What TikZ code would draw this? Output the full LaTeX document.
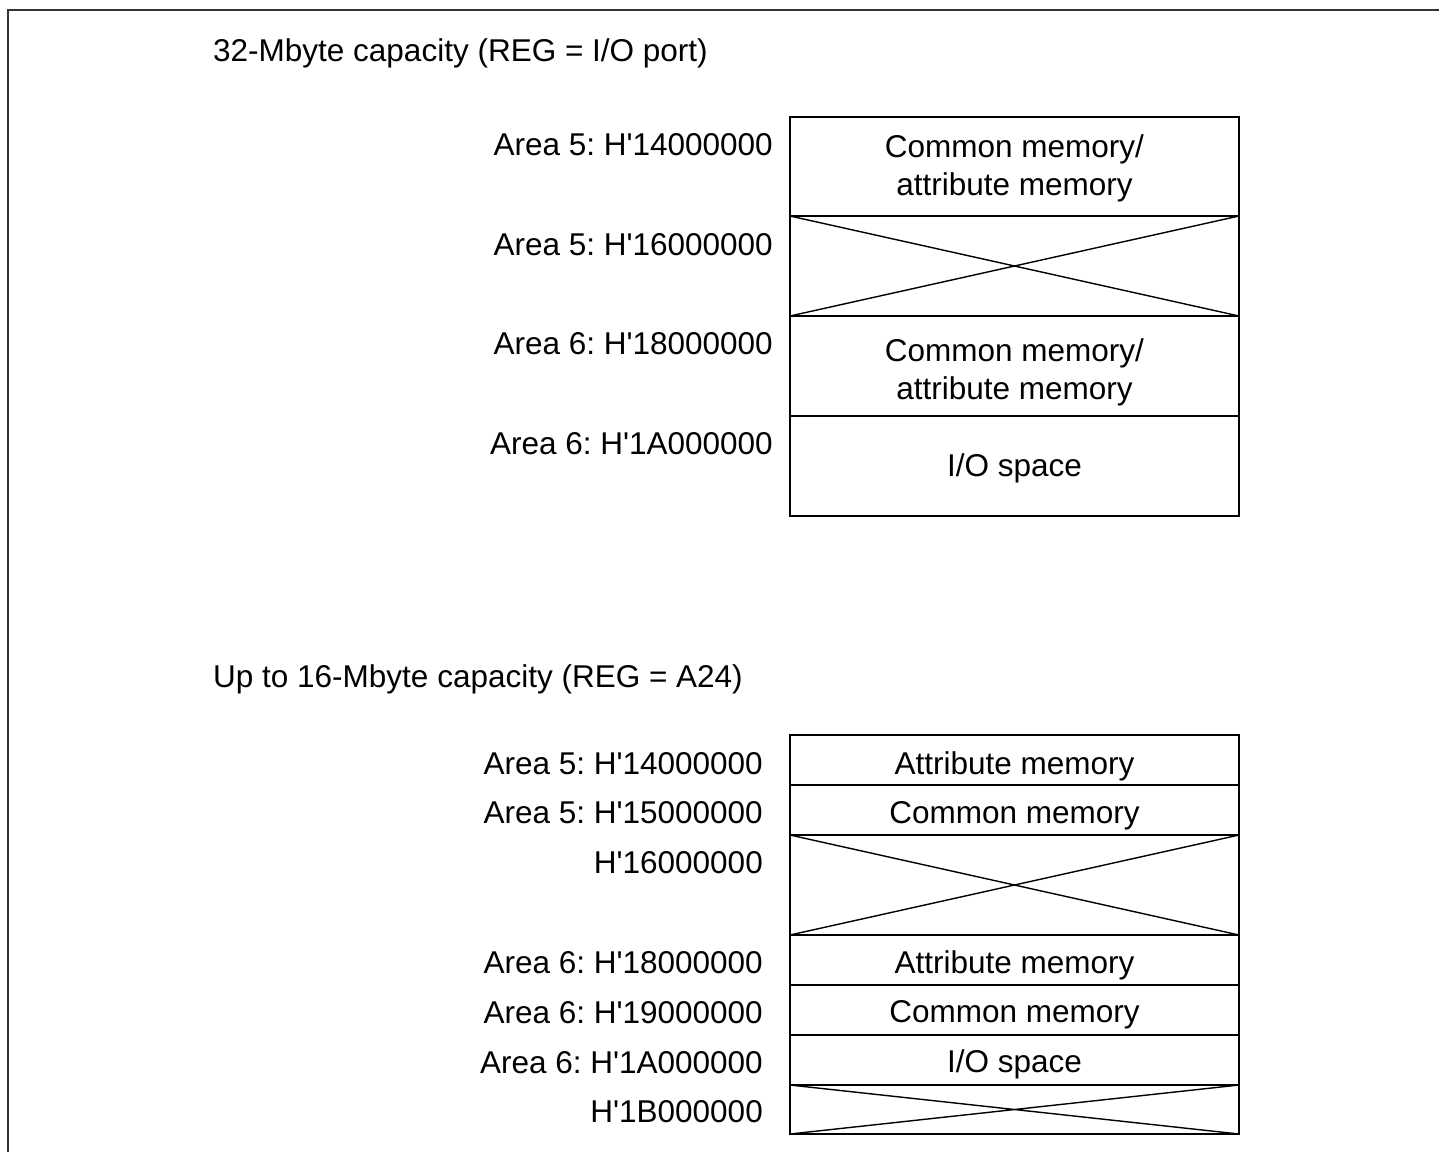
\documentclass[tikz,border=0pt]{standalone}
\usepackage{fontspec}
\setmainfont{Liberation Sans}[Ligatures=TeXOff]
\frenchspacing
\begin{document}
\begin{tikzpicture}[x=1pt,y=-1pt,
  f/.style={inner sep=0pt, font=\fontsize{31.5}{38}\selectfont},
  lbl/.style={f, anchor=base east},
  ttl/.style={f, anchor=base west},
  txt/.style={f, anchor=base},
  cell/.style={draw, line width=1.8pt, minimum width=449pt, inner sep=0pt, outer sep=0pt},
  frame/.style={draw=black!80, line width=2pt}]
\useasboundingbox (0,0) rectangle (1439,1152);
% frame
\coordinate (fa) at (1439,10);
\coordinate (fb) at (8,10);
\coordinate (fc) at (8,1152);
\draw[frame] (fa) -- (fb) -- (fc);

% titles
\node[ttl] (t1) at (213,61) {32-Mbyte capacity (REG = I/O port)};
\node[ttl] (t2) at (213,687) {Up to 16-Mbyte capacity (REG = A24)};

% top block
\node[cell, minimum height=99pt] (a1) at (1014.5,166.5) {};
\node[cell, minimum height=100pt] (a2) at (1014.5,266) {};
\node[cell, minimum height=100pt] (a3) at (1014.5,366) {};
\node[cell, minimum height=100pt] (a4) at (1014.5,466) {};
\draw[line width=1.4pt] (a2.north west) -- (a2.south east) (a2.south west) -- (a2.north east);

\node[txt] (a1t1) at (1014.5,157) {Common memory/};
\node[txt] (a1t2) at (1014.5,195) {attribute memory};
\node[txt] (a3t1) at (1014.5,361) {Common memory/};
\node[txt] (a3t2) at (1014.5,399) {attribute memory};
\node[txt] (a4t) at (1014.5,476) {I/O space};

\node[lbl] (la1) at (773,155) {Area 5: H'14000000};
\node[lbl] (la2) at (773,255) {Area 5: H'16000000};
\node[lbl] (la3) at (773,354) {Area 6: H'18000000};
\node[lbl] (la4) at (773,454) {Area 6: H'1A000000};

% bottom block
\node[cell, minimum height=50pt] (b1) at (1014.5,760) {};
\node[cell, minimum height=50pt] (b2) at (1014.5,810) {};
\node[cell, minimum height=100pt] (b3) at (1014.5,885) {};
\node[cell, minimum height=50pt] (b4) at (1014.5,960) {};
\node[cell, minimum height=50pt] (b5) at (1014.5,1010) {};
\node[cell, minimum height=50pt] (b6) at (1014.5,1060) {};
\node[cell, minimum height=49pt] (b7) at (1014.5,1109.5) {};
\draw[line width=1.4pt] (b3.north west) -- (b3.south east) (b3.south west) -- (b3.north east);
\draw[line width=1.4pt] (b7.north west) -- (b7.south east) (b7.south west) -- (b7.north east);

\node[txt] (b1t) at (1014.5,774) {Attribute memory};
\node[txt] (b2t) at (1014.5,823) {Common memory};
\node[txt] (b4t) at (1014.5,973) {Attribute memory};
\node[txt] (b5t) at (1014.5,1022) {Common memory};
\node[txt] (b6t) at (1014.5,1072) {I/O space};

\node[lbl] (lb1) at (763,774) {Area 5: H'14000000};
\node[lbl] (lb2) at (763,823) {Area 5: H'15000000};
\node[lbl] (lb3) at (763,873) {H'16000000};
\node[lbl] (lb4) at (763,973) {Area 6: H'18000000};
\node[lbl] (lb5) at (763,1023) {Area 6: H'19000000};
\node[lbl] (lb6) at (763,1073) {Area 6: H'1A000000};
\node[lbl] (lb7) at (763,1122) {H'1B000000};
\end{tikzpicture}
\end{document}
